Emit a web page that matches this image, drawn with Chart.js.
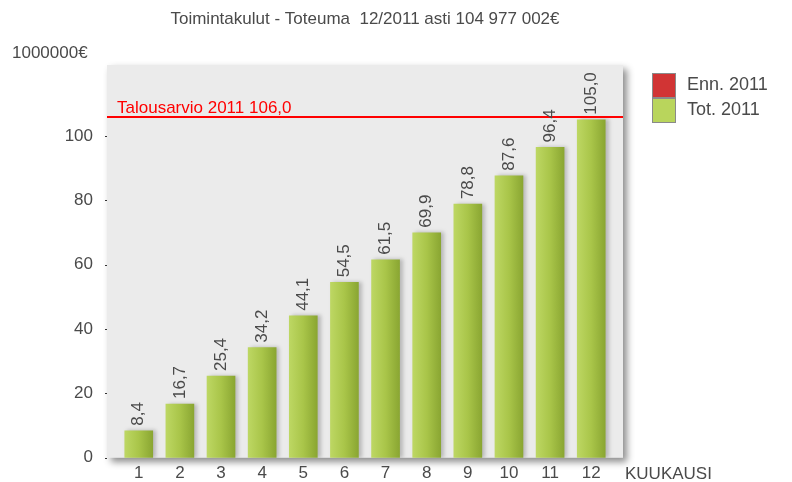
<!DOCTYPE html>
<html>
<head>
<meta charset="utf-8">
<script src="https://cdn.jsdelivr.net/npm/chart.js@4.4.1/dist/chart.umd.min.js"></script>
<style>
  html, body { margin: 0; padding: 0; background: #ffffff; }
  #wrap { width: 792px; height: 482px; }
</style>
</head>
<body>
<div id="wrap"><canvas id="chart" width="792" height="482"></canvas></div>
<script>
// ---- data ----
const months = [1, 2, 3, 4, 5, 6, 7, 8, 9, 10, 11, 12];
const totValues = [8.4, 16.7, 25.4, 34.2, 44.1, 54.5, 61.5, 69.9, 78.8, 87.6, 96.4, 105.0];
const ennValues = [];
const yTicks = [0, 20, 40, 60, 80, 100];
const budgetValue = 106.0;

const seriesNames = ["Enn. 2011", "Tot. 2011"];
const titleText = "Toimintakulut - Toteuma  12/2011 asti 104 977 002\u20ac";
const yUnitText = "1000000\u20ac";
const xAxisText = "KUUKAUSI";
const budgetText = "Talousarvio 2011 106,0";

// ---- style ----
const FONT = "'Liberation Sans', Arial, sans-serif";
const TEXT = "#4a4a4a";
const RED = "#d13434";
const GREEN = "#b9d55c";
const PLOT_BG = "#ebebeb";

function fmt(v) {
    return v.toFixed(1).replace(".", ",");
}

// bar fill: horizontal gradient across each bar
function barGradient(ctx) {
    const chart = ctx.chart;
    const x = chart.scales && chart.scales.x;
    const m = months[ctx.dataIndex];
    if (!x || m === undefined) return GREEN;
    const cx = x.getPixelForValue(m);
    if (!isFinite(cx)) return GREEN;
    const g = chart.ctx.createLinearGradient(cx - 14, 0, cx + 14, 0);
    g.addColorStop(0, "#bdd763");
    g.addColorStop(0.5, "#a9c549");
    g.addColorStop(1, "#8aa632");
    return g;
}

// plot background with drop shadow, texts, legend, budget line, value labels
const decor = {
    id: "decor",
    beforeDraw(chart) {
        const { ctx, chartArea: a } = chart;
        ctx.save();
        ctx.shadowColor = "rgba(0,0,0,0.45)";
        ctx.shadowBlur = 7;
        ctx.shadowOffsetX = 4;
        ctx.shadowOffsetY = 4;
        ctx.fillStyle = PLOT_BG;
        ctx.fillRect(a.left, a.top, a.right - a.left, a.bottom - a.top);
        ctx.restore();
    },
    beforeDatasetsDraw(chart) {
        const ctx = chart.ctx;
        ctx.save();
        ctx.shadowColor = "rgba(0,0,0,0.22)";
        ctx.shadowBlur = 4;
        ctx.shadowOffsetX = 3;
        ctx.shadowOffsetY = 0;
    },
    afterDatasetsDraw(chart) {
        const { ctx, chartArea: a, scales } = chart;
        ctx.restore();

        // budget line
        const yb = Math.round(scales.y.getPixelForValue(budgetValue));
        ctx.save();
        ctx.strokeStyle = "#ff0000";
        ctx.lineWidth = 2;
        ctx.beginPath();
        ctx.moveTo(a.left, yb);
        ctx.lineTo(a.right, yb);
        ctx.stroke();
        ctx.fillStyle = "#ff0000";
        ctx.font = "17px " + FONT;
        ctx.textAlign = "left";
        ctx.textBaseline = "alphabetic";
        ctx.fillText(budgetText, a.left + 10, yb - 4);
        ctx.restore();

        // value labels, rotated
        ctx.save();
        ctx.fillStyle = TEXT;
        ctx.font = "17px " + FONT;
        ctx.textAlign = "left";
        ctx.textBaseline = "middle";
        totValues.forEach((v, i) => {
            const px = scales.x.getPixelForValue(months[i]);
            const py = scales.y.getPixelForValue(v);
            ctx.save();
            ctx.translate(px, py - 5);
            ctx.rotate(-Math.PI / 2);
            ctx.fillText(fmt(v), 0, 0);
            ctx.restore();
        });
        ctx.restore();
    },
    afterDraw(chart) {
        const { ctx, chartArea: a, scales } = chart;
        ctx.save();
        ctx.fillStyle = TEXT;
        ctx.font = "17px " + FONT;
        ctx.textBaseline = "middle";

        ctx.textAlign = "center";
        ctx.fillText(titleText, (a.left + a.right) / 2, 19);

        ctx.textAlign = "left";
        ctx.fillText(yUnitText, 12, 53);
        ctx.fillText(xAxisText, a.right + 2, 474);

        // y tick dots
        ctx.fillStyle = "#333";
        yTicks.forEach(t => {
            const y = Math.round(scales.y.getPixelForValue(t));
            ctx.fillRect(a.left - 2, y, 2, 1);
        });

        // legend
        const colors = [RED, GREEN];
        seriesNames.forEach((name, i) => {
            const top = 73 + i * 25;
            ctx.fillStyle = colors[i];
            ctx.fillRect(652, top, 24, 25);
            ctx.strokeStyle = "#8a8a8a";
            ctx.lineWidth = 1;
            ctx.strokeRect(652.5, top + 0.5, 23, 24);
            ctx.fillStyle = TEXT;
            ctx.font = "18px " + FONT;
            ctx.textAlign = "left";
            ctx.fillText(name, 687, top + 12.5);
        });
        ctx.restore();
    }
};

new Chart(document.getElementById("chart"), {
    type: "bar",
    data: {
        datasets: [
            {
                label: seriesNames[0],
                data: ennValues,
                backgroundColor: RED,
                grouped: false,
                barThickness: 28,
            },
            {
                label: seriesNames[1],
                data: months.map((m, i) => ({ x: m, y: totValues[i] })),
                backgroundColor: barGradient,
                borderWidth: 0,
                grouped: false,
                barThickness: 28,
            },
        ],
    },
    options: {
        responsive: false,
        animation: false,
        layout: { padding: { top: 65, right: 169, bottom: 0, left: 0 } },
        plugins: {
            legend: { display: false },
            title: { display: false },
            tooltip: { enabled: false },
        },
        scales: {
            x: {
                type: "linear",
                offset: false,
                min: 0.228,
                max: 12.772,
                grid: { display: false, drawTicks: false, offset: false },
                border: { display: false },
                afterBuildTicks: s => { s.ticks = months.map(v => ({ value: v })); },
                afterFit: s => { s.height = 24; },
                ticks: {
                    font: { family: FONT, size: 17 },
                    color: TEXT,
                    padding: 5,
                    maxRotation: 0,
                    autoSkip: false,
                },
            },
            y: {
                min: 0,
                max: 122,
                grid: { display: false, drawTicks: false },
                border: { display: false },
                afterBuildTicks: s => { s.ticks = yTicks.map(v => ({ value: v })); },
                afterFit: s => { s.width = 107; },
                ticks: {
                    font: { family: FONT, size: 17 },
                    color: TEXT,
                    padding: 14,
                },
            },
        },
    },
    plugins: [decor],
});
</script>
</body>
</html>
